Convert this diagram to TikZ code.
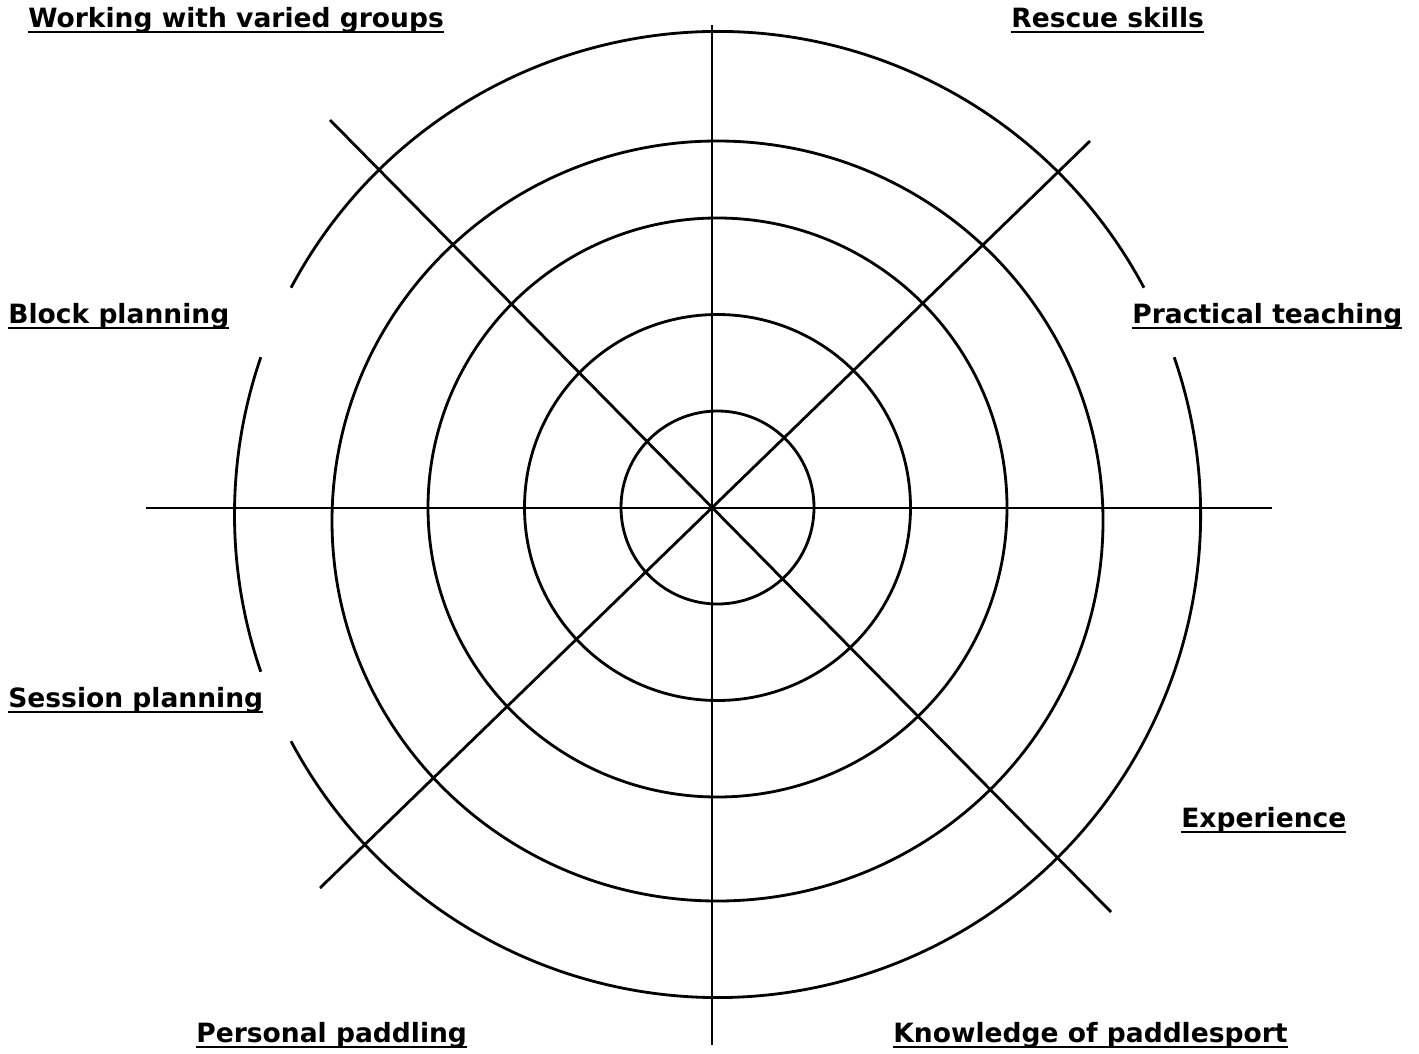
\documentclass[tikz,border=0pt]{standalone}
\usepackage{fontspec}
\setmainfont{DejaVu Sans}
\usetikzlibrary{positioning}
\newcommand{\ulabel}[1]{\setbox0\hbox{#1}\rlap{\copy0}\rule[-3.4pt]{\wd0}{1.3pt}}

\begin{document}
\begin{tikzpicture}[x=0.02cm, y=-0.02cm]
        \useasboundingbox (0,0) rectangle (1419,1054);
        \tikzset{ring/.style={line width=1.6pt},
                 spoke/.style={line width=1.6pt},
                 lbl/.style={font=\bfseries\fontsize{15.1}{17}\selectfont, inner sep=0pt, anchor=west}}

        % Mittelpunkte
        \coordinate (C) at (717.5,507.5);
        \coordinate (D) at (717.5,514.5);
        \coordinate (E) at (717.5,521);

        % --- Ringe ---
        \foreach \r in {96.5, 193, 289.5}
            \draw[ring] (C) circle (\r);
        \draw[ring] (E) ellipse [x radius=385.5, y radius=380];
        % aeusserer Ring mit Luecken fuer die Beschriftung
        \draw[ring] (D) ++(-152:483) arc[start angle=-152, end angle=-28, radius=483];
        \draw[ring] (D) ++(-199:483) arc[start angle=-199, end angle=-161, radius=483];
        \draw[ring] (D) ++(-379:483) arc[start angle=-379, end angle=-208, radius=483];

        % --- Speichen ---
        \coordinate (n) at (712,25);
        \coordinate (s) at (712,1045);
        \coordinate (w) at (146,508);
        \coordinate (e) at (1272,508);
        \coordinate (nw) at (330,120);
        \coordinate (se) at (1111,912);
        \coordinate (ne) at (1090,141);
        \coordinate (sw) at (320,888);
        \draw[spoke] (n) -- (s);
        \draw[spoke] (w) -- (e);
        \draw[spoke] (nw) -- (se);
        \draw[spoke] (ne) -- (sw);

        % Beschriftung
        \foreach \x/\y/\name/\txt in {28/20/groups/Working with varied groups,
                                      1011/20/rescue/Rescue skills,
                                      8/316/block/Block planning,
                                      1132/316/teaching/Practical teaching,
                                      8/700/session/Session planning,
                                      1181/820/exp/Experience,
                                      196/1035/paddling/Personal paddling,
                                      893/1035/knowledge/Knowledge of paddlesport}
            \node[lbl] (\name) at (\x,\y) {\ulabel{\txt}};

\end{tikzpicture}
\end{document}
